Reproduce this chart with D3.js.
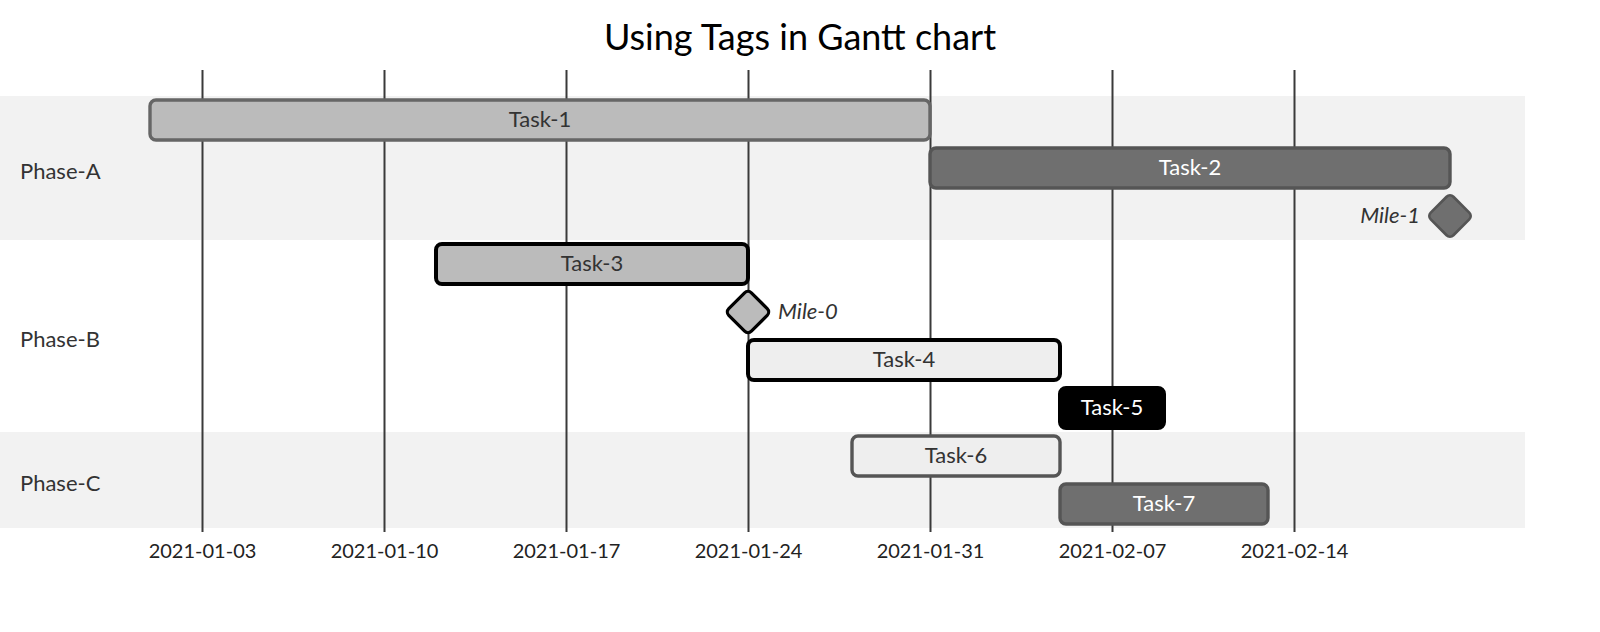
<!DOCTYPE html>
<html>
<head>
<meta charset="utf-8">
<script src="https://cdn.jsdelivr.net/npm/d3@7"></script>
<style>
  body { margin: 0; background: #fff; }
  svg { display: block; font-family: "trebuchet ms", Lato, sans-serif; }
  .grid .domain { stroke: none; }
  .grid .tick line { stroke: #3a3a3a; stroke-width: 2; }
  .grid .tick text { fill: #222; font-size: 20px; }
</style>
</head>
<body>
<svg id="chart" width="1600" height="632"></svg>
<script>
/* global d3 */

const title = "Using Tags in Gantt chart";

const sections = ["Phase-A", "Phase-B", "Phase-C"];

const taskNames = ["Task-1", "Task-2", "Mile-1", "Task-3", "Mile-0", "Task-4", "Task-5", "Task-6", "Task-7"];
const taskSections = ["Phase-A", "Phase-A", "Phase-A", "Phase-B", "Phase-B", "Phase-B", "Phase-B", "Phase-C", "Phase-C"];
const taskStarts = ["2021-01-01", "2021-01-31", "2021-02-20", "2021-01-12", "2021-01-24", "2021-01-24", "2021-02-05", "2021-01-28", "2021-02-05"];
const taskEnds = ["2021-01-31", "2021-02-20", "2021-02-20", "2021-01-24", "2021-01-24", "2021-02-05", "2021-02-09", "2021-02-05", "2021-02-13"];
const taskTags = ["", "done", "done milestone", "crit", "crit milestone", "active crit", "done crit", "active", "done"];

const tickDates = ["2021-01-03", "2021-01-10", "2021-01-17", "2021-01-24", "2021-01-31", "2021-02-07", "2021-02-14"];

const parse = d3.utcParse("%Y-%m-%d");
const fmt = d3.utcFormat("%Y-%m-%d");

const width = 1600;
const rowTop = 100;
const rowGap = 48;
const barHeight = 40;
const gridTop = 70;
const axisY = rowTop + taskNames.length * rowGap;

const tasks = taskNames.map((name, i) => ({
  name,
  section: taskSections[i],
  start: parse(taskStarts[i]),
  end: parse(taskEnds[i]),
  tags: taskTags[i].split(" ").filter(t => t),
  row: i
}));

function styleFor(tags) {
  const done = tags.includes("done");
  const crit = tags.includes("crit");
  const active = tags.includes("active");
  let fill = "#bbb", stroke = "#666", text = "#333";
  if (done) { fill = "#6f6f6f"; stroke = "#555"; text = "#fff"; }
  if (active) { fill = "#eee"; stroke = "#555"; }
  if (crit) {
    stroke = "#000";
    if (done) { fill = "#000"; text = "#fff"; }
  }
  return { fill, stroke, text, sw: crit ? 4 : 3.4 };
}

const x = d3.scaleUtc()
  .domain([d3.min(tasks, d => d.start), d3.max(tasks, d => d.end)])
  .range([150, 1450]);

const svg = d3.select("#chart");

// section backgrounds
const sectionRows = sections.map(s => {
  const rows = tasks.filter(t => t.section === s).map(t => t.row);
  return { name: s, first: d3.min(rows), count: rows.length };
});

svg.append("g")
  .selectAll("rect")
  .data(sectionRows)
  .join("rect")
  .attr("x", 0)
  .attr("y", d => rowTop - 4 + d.first * rowGap)
  .attr("width", 1525)
  .attr("height", d => d.count * rowGap)
  .attr("fill", (d, i) => i % 2 === 0 ? "#f2f2f2" : "#fff");

// grid
const axis = d3.axisBottom(x)
  .tickValues(tickDates.map(parse))
  .tickFormat(fmt)
  .tickSize(-(axisY - gridTop))
  .tickPadding(6);

const grid = svg.append("g")
  .attr("class", "grid")
  .attr("transform", `translate(0,${axisY})`)
  .call(axis)
  .attr("font-family", null)
  .attr("font-size", null);
grid.selectAll(".tick text")
  .attr("dy", "1em")
  .attr("y", 6);

// bars
const bars = tasks.filter(t => !t.tags.includes("milestone"));
svg.append("g")
  .selectAll("rect")
  .data(bars)
  .join("rect")
  .attr("x", d => x(d.start))
  .attr("y", d => rowTop + d.row * rowGap)
  .attr("width", d => x(d.end) - x(d.start))
  .attr("height", barHeight)
  .attr("rx", 6)
  .attr("ry", 6)
  .attr("fill", d => styleFor(d.tags).fill)
  .attr("stroke", d => styleFor(d.tags).stroke)
  .attr("stroke-width", d => styleFor(d.tags).sw);

svg.append("g")
  .selectAll("text")
  .data(bars)
  .join("text")
  .attr("x", d => (x(d.start) + x(d.end)) / 2)
  .attr("y", d => rowTop + d.row * rowGap + 27)
  .attr("text-anchor", "middle")
  .attr("font-size", 22)
  .attr("fill", d => styleFor(d.tags).text)
  .text(d => d.name);

// milestones
const miles = tasks.filter(t => t.tags.includes("milestone"));
svg.append("g")
  .selectAll("rect")
  .data(miles)
  .join("rect")
  .attr("transform", d => `translate(${x(d.start)},${rowTop + d.row * rowGap + barHeight / 2}) rotate(45) scale(0.8)`)
  .attr("x", -barHeight / 2)
  .attr("y", -barHeight / 2)
  .attr("width", barHeight)
  .attr("height", barHeight)
  .attr("rx", 6)
  .attr("ry", 6)
  .attr("fill", d => styleFor(d.tags).fill)
  .attr("stroke", d => styleFor(d.tags).stroke)
  .attr("stroke-width", d => styleFor(d.tags).sw);

// label goes left if it would run off the right side
const labelLeft = d => x(d.start) + 150 > width - 100;

svg.append("g")
  .selectAll("text")
  .data(miles)
  .join("text")
  .attr("x", d => labelLeft(d) ? x(d.start) - barHeight / 2 - 10 : x(d.start) + barHeight / 2 + 10)
  .attr("text-anchor", d => labelLeft(d) ? "end" : "start")
  .attr("y", d => rowTop + d.row * rowGap + 27)
  .attr("font-size", 22)
  .attr("font-style", "italic")
  .attr("fill", "#333")
  .text(d => d.name);

// section labels
svg.append("g")
  .selectAll("text")
  .data(sectionRows)
  .join("text")
  .attr("x", 20)
  .attr("y", d => rowTop + (d.first + d.count / 2) * rowGap)
  .attr("dy", "0.33em")
  .attr("font-size", 22)
  .attr("fill", "#333")
  .text(d => d.name);

// title
svg.append("text")
  .attr("x", width / 2)
  .attr("y", 50)
  .attr("text-anchor", "middle")
  .attr("font-size", 36)
  .attr("fill", "#000")
  .text(title);
</script>
</body>
</html>
